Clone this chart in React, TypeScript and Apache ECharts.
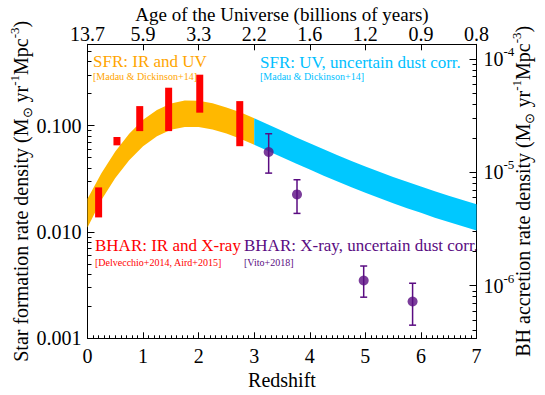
import { useEffect, useRef } from 'react';
import * as echarts from 'echarts';

const FONT = '"Liberation Serif", "Times New Roman", Times, serif';
const ORANGE_BAND = '#ffb800';
const CYAN_BAND = '#00c8ff';
const ORANGE_TEXT = '#ffa500';
const CYAN_TEXT = '#00bfff';
const RED = '#ff0000';
const PURPLE = '#5a0c82';

// Top axis: age of the Universe at integer redshifts
const redshiftTicks = [0, 1, 2, 3, 4, 5, 6, 7];
const ageLabels = ['13.7', '5.9', '3.3', '2.2', '1.6', '1.2', '0.9', '0.8'];

// Left axis (SFR density) ticks
const sfrMajor = [0.001, 0.01, 0.1];
const sfrMinor = [0.002, 0.003, 0.004, 0.005, 0.006, 0.007, 0.008, 0.009,
  0.02, 0.03, 0.04, 0.05, 0.06, 0.07, 0.08, 0.09, 0.2, 0.3, 0.4, 0.5];
// Right axis (BHAR density) ticks
const bharMajor = [1e-6, 1e-5, 1e-4];
const bharMinor = [4e-7, 5e-7, 6e-7, 7e-7, 8e-7, 9e-7,
  2e-6, 3e-6, 4e-6, 5e-6, 6e-6, 7e-6, 8e-6, 9e-6,
  2e-5, 3e-5, 4e-5, 5e-5, 6e-5, 7e-5, 8e-5, 9e-5];

// SFR band: IR and UV (Madau & Dickinson 14), z 0-3
const irZ = [0, 0.25, 0.5, 0.75, 1, 1.25, 1.5, 1.75, 2, 2.25, 2.5, 2.75, 3];
const irHi = [0.0205, 0.0355, 0.0569, 0.0835, 0.113, 0.140, 0.161, 0.172, 0.171, 0.162, 0.148, 0.133, 0.117];
const irLo = [0.0110, 0.0200, 0.0322, 0.0472, 0.0638, 0.0793, 0.0912, 0.0971, 0.0970, 0.0919, 0.0840, 0.0750, 0.0660];

// SFR band: UV, uncertain dust corr., z 3-7
const uvZ = [3, 3.25, 3.5, 3.75, 4, 4.25, 4.5, 4.75, 5, 5.25, 5.5, 5.75, 6, 6.25, 6.5, 6.75, 7];
const uvHi = [0.117, 0.102, 0.0891, 0.0777, 0.0680, 0.0597, 0.0525, 0.0465, 0.0412, 0.0368, 0.0329, 0.0296, 0.0267, 0.0241, 0.0219, 0.0199, 0.0182];
const uvLo = [0.0660, 0.0577, 0.0504, 0.0440, 0.0385, 0.0338, 0.0297, 0.0263, 0.0233, 0.0208, 0.0186, 0.0167, 0.0151, 0.0136, 0.0124, 0.0113, 0.0103];

// BHAR: IR and X-ray (Delvecchio+2014, Aird+2015) ranges
const redZ = [0.20, 0.53, 0.94, 1.46, 2.02, 2.74];
const redLo = [4.0e-6, 1.73e-5, 2.31e-5, 2.31e-5, 3.36e-5, 1.70e-5];
const redHi = [7.36e-6, 2.05e-5, 3.84e-5, 5.58e-5, 7.27e-5, 4.25e-5];

// BHAR: X-ray (Vito+2018)
const vitoZ = [3.26, 3.77, 4.97, 5.85];
const vitoVal = [1.51e-5, 6.38e-6, 1.11e-6, 7.25e-7];
const vitoLo = [9.84e-6, 4.34e-6, 7.91e-7, 4.48e-7];
const vitoHi = [2.19e-5, 8.60e-6, 1.49e-6, 1.05e-6];

const SFR_MIN = 0.001;
const SFR_MAX = 0.58;
const BHAR_MIN = 3.43e-7;
const BHAR_MAX = 1.348e-4;

const richSup = {
  sup: { fontSize: 13, fontFamily: FONT, color: '#000', verticalAlign: 'top', lineHeight: 13 },
  sub: { fontSize: 13, fontFamily: FONT, color: '#000', verticalAlign: 'bottom', lineHeight: 13 },
};

function bandRender(zs: number[], his: number[], los: number[], color: string) {
  return (params: any, api: any) => {
    if (params.dataIndex !== 0) return null;
    const pts: number[][] = [];
    for (let i = 0; i < zs.length; i++) pts.push(api.coord([zs[i], his[i]]));
    for (let i = zs.length - 1; i >= 0; i--) pts.push(api.coord([zs[i], los[i]]));
    return { type: 'polygon', shape: { points: pts }, style: { fill: color } };
  };
}

function buildOption(): any {
  const axisLine = { show: true, lineStyle: { color: '#000', width: 1 } };
  const labelBase = { fontSize: 20, fontFamily: FONT, color: '#000' };
  const yLogBase = (min: number, max: number) => ({
    type: 'log', logBase: 10, min, max, splitLine: { show: false },
  });
  return {
    animation: false,
    backgroundColor: '#fff',
    grid: { left: 87.5, right: 68.5, top: 44.3, bottom: 56.7, containLabel: false, outerBoundsMode: 'none' },
    xAxis: [
      {
        type: 'value', position: 'bottom', min: 0, max: 7, interval: 1,
        axisLine: { ...axisLine, onZero: false },
        axisTick: { show: true, inside: true, length: 6, lineStyle: { color: '#000' } },
        minorTick: { show: true, splitNumber: 10, length: 3, lineStyle: { color: '#000' } },
        splitLine: { show: false },
        axisLabel: { ...labelBase, margin: 8, formatter: (v: number) => String(v) },
        name: 'Redshift', nameLocation: 'middle', nameGap: 32, nameMoveOverlap: false,
        nameTextStyle: { ...labelBase },
      },
      {
        type: 'value', position: 'top', min: 0, max: 7, interval: 1,
        axisLine: { ...axisLine, onZero: false },
        axisTick: { show: true, inside: true, length: 6, lineStyle: { color: '#000' } },
        splitLine: { show: false },
        axisLabel: {
          ...labelBase, margin: 0,
          formatter: (v: number) => {
            const i = redshiftTicks.indexOf(Math.round(v));
            return i >= 0 ? ageLabels[i] : '';
          },
        },
        name: 'Age of the Universe (billions of years)', nameLocation: 'middle', nameGap: 20, nameMoveOverlap: false,
        nameTextStyle: { ...labelBase, fontSize: 19 },
      },
    ],
    yAxis: [
      {
        ...yLogBase(SFR_MIN, SFR_MAX), position: 'left',
        axisLine,
        axisTick: { show: true, inside: true, length: 7, customValues: sfrMajor, lineStyle: { color: '#000' } },
        axisLabel: { ...labelBase, margin: 6, customValues: sfrMajor, formatter: (v: number) => v.toFixed(3) },
        name: 'Star formation rate density (M{sub|⊙} yr{sup|-1}Mpc{sup|-3})',
        nameLocation: 'middle', nameGap: 54, nameRotate: 90, nameMoveOverlap: false,
        nameTextStyle: { ...labelBase, lineHeight: 26, rich: richSup },
      },
      {
        ...yLogBase(SFR_MIN, SFR_MAX), position: 'left',
        axisLine: { show: false },
        axisTick: { show: true, inside: true, length: 4, customValues: sfrMinor, lineStyle: { color: '#000' } },
        axisLabel: { show: false },
      },
      {
        ...yLogBase(BHAR_MIN, BHAR_MAX), position: 'right',
        axisLine,
        axisTick: { show: true, inside: true, length: 7, customValues: bharMajor, lineStyle: { color: '#000' } },
        axisLabel: {
          ...labelBase, margin: 7, lineHeight: 28, customValues: bharMajor,
          formatter: (v: number) => `10{sup|${Math.round(Math.log10(v))}}`,
          rich: richSup,
        },
        name: 'BH accretion rate density (M{sub|⊙} yr{sup|-1}Mpc{sup|-3})',
        nameLocation: 'middle', nameGap: 33, nameRotate: 90, nameMoveOverlap: false,
        nameTextStyle: { ...labelBase, lineHeight: 26, rich: richSup },
      },
      {
        ...yLogBase(BHAR_MIN, BHAR_MAX), position: 'right',
        axisLine: { show: false },
        axisTick: { show: true, inside: true, length: 4, customValues: bharMinor, lineStyle: { color: '#000' } },
        axisLabel: { show: false },
      },
    ],
    series: [
      {
        type: 'custom', name: 'SFR: IR and UV', xAxisIndex: 0, yAxisIndex: 0,
        renderItem: bandRender(irZ, irHi, irLo, ORANGE_BAND),
        data: irZ.map((z, i) => [z, irLo[i], irHi[i]]),
        encode: { x: 0, y: [1, 2] }, z: 1, silent: true,
      },
      {
        type: 'custom', name: 'SFR: UV, uncertain dust corr.', xAxisIndex: 0, yAxisIndex: 0,
        renderItem: bandRender(uvZ, uvHi, uvLo, CYAN_BAND),
        data: uvZ.map((z, i) => [z, uvLo[i], uvHi[i]]),
        encode: { x: 0, y: [1, 2] }, z: 1, silent: true,
      },
      {
        type: 'custom', name: 'BHAR: IR and X-ray', xAxisIndex: 0, yAxisIndex: 2,
        renderItem: (params: any, api: any) => {
          const z = api.value(0), lo = api.value(1), hi = api.value(2);
          const a = api.coord([z, hi]);
          const b = api.coord([z, lo]);
          return { type: 'rect', shape: { x: a[0] - 3.5, y: a[1], width: 7, height: b[1] - a[1] }, style: { fill: RED } };
        },
        data: redZ.map((z, i) => [z, redLo[i], redHi[i]]),
        encode: { x: 0, y: [1, 2] }, z: 3, silent: true,
      },
      {
        type: 'custom', name: 'Vito errors', xAxisIndex: 0, yAxisIndex: 2,
        renderItem: (params: any, api: any) => {
          const z = api.value(0), lo = api.value(1), hi = api.value(2);
          const a = api.coord([z, hi]);
          const b = api.coord([z, lo]);
          const w = 3.5;
          const st = { stroke: PURPLE, lineWidth: 1.5 };
          return {
            type: 'group', children: [
              { type: 'line', shape: { x1: a[0], y1: a[1], x2: b[0], y2: b[1] }, style: st },
              { type: 'line', shape: { x1: a[0] - w, y1: a[1], x2: a[0] + w, y2: a[1] }, style: st },
              { type: 'line', shape: { x1: b[0] - w, y1: b[1], x2: b[0] + w, y2: b[1] }, style: st },
            ],
          };
        },
        data: vitoZ.map((z, i) => [z, vitoLo[i], vitoHi[i]]),
        encode: { x: 0, y: [1, 2] }, z: 3, silent: true,
      },
      {
        type: 'scatter', name: 'BHAR: X-ray, uncertain dust corr.', xAxisIndex: 0, yAxisIndex: 2,
        symbol: 'circle', symbolSize: 10,
        itemStyle: { color: PURPLE },
        data: vitoZ.map((z, i) => [z, vitoVal[i]]),
        z: 4, silent: true,
      },
    ],
    graphic: [
      { type: 'text', x: 93, y: 61, style: { text: 'SFR: IR and UV', fill: ORANGE_TEXT, fontSize: 17, fontFamily: FONT, verticalAlign: 'middle' } },
      { type: 'text', x: 93, y: 76, style: { text: '[Madau & Dickinson+14]', fill: ORANGE_TEXT, fontSize: 10, fontFamily: FONT, verticalAlign: 'middle' } },
      { type: 'text', x: 260, y: 62, style: { text: 'SFR: UV, uncertain dust corr.', fill: CYAN_TEXT, fontSize: 17, fontFamily: FONT, verticalAlign: 'middle' } },
      { type: 'text', x: 260, y: 76, style: { text: '[Madau & Dickinson+14]', fill: CYAN_TEXT, fontSize: 10, fontFamily: FONT, verticalAlign: 'middle' } },
      { type: 'text', x: 95, y: 245, style: { text: 'BHAR: IR and X-ray', fill: RED, fontSize: 17, fontFamily: FONT, verticalAlign: 'middle' } },
      { type: 'text', x: 95, y: 262, style: { text: '[Delvecchio+2014, Aird+2015]', fill: RED, fontSize: 10, fontFamily: FONT, verticalAlign: 'middle' } },
      { type: 'text', x: 244, y: 245, style: { text: 'BHAR: X-ray, uncertain dust corr.', fill: PURPLE, fontSize: 17, fontFamily: FONT, verticalAlign: 'middle' } },
      { type: 'text', x: 244, y: 262, style: { text: '[Vito+2018]', fill: PURPLE, fontSize: 10, fontFamily: FONT, verticalAlign: 'middle' } },
    ],
  };
}

export default function App() {
  const ref = useRef<HTMLDivElement>(null);
  useEffect(() => {
    if (!ref.current) return;
    const chart = echarts.init(ref.current, null, { renderer: 'svg' });
    chart.setOption(buildOption());
    return () => chart.dispose();
  }, []);
  return (
    <div
      ref={ref}
      style={{ position: 'fixed', left: 0, top: 0, width: 545, height: 395, background: '#fff' }}
    />
  );
}
